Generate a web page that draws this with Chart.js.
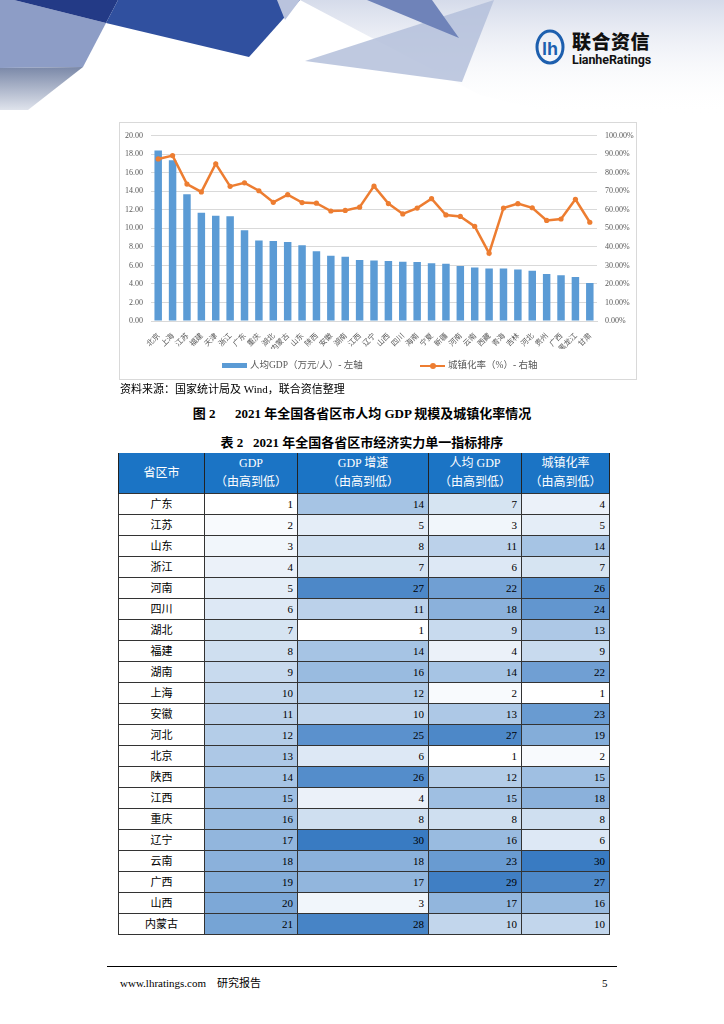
<!DOCTYPE html>
<html lang="zh-CN">
<head>
<meta charset="utf-8">
<title>2021年全国各省区市人均GDP规模及城镇化率情况</title>
<script src="https://cdn.jsdelivr.net/npm/chart.js@4.4.1/dist/chart.umd.min.js"></script>
<style>
  html, body { margin: 0; padding: 0; }
  body { width: 724px; height: 1024px; position: relative; overflow: hidden; background: #fff;
         font-family: "Liberation Serif", "Noto Sans CJK SC", serif; color: #000; }
  #hdr { position: absolute; left: 0; top: 0; }
  .logo-cn { position: absolute; left: 572px; top: 31px; font-family: "Noto Sans CJK SC", sans-serif; font-weight: 900; font-size: 19px; letter-spacing: 0.5px; color: #111; line-height: 20px; }
  .logo-en { position: absolute; left: 572px; top: 53px; font-family: "Roboto", "Liberation Sans", sans-serif; font-weight: 700; font-size: 12.5px; color: #111; line-height: 14px; letter-spacing: -0.1px; }
  #chartBox { position: absolute; left: 119px; top: 122px; width: 516px; height: 256px; border: 1px solid #d9d9d9; }
  #chartWrap { position: absolute; left: 0; top: 0; width: 516px; height: 256px; }
  .legend { position: absolute; top: 236px; font-family: "Liberation Serif", "Noto Sans CJK SC", serif; font-size: 9.5px; color: #595959; line-height: 12px; white-space: nowrap; }
  .legend .sw { display: inline-block; vertical-align: middle; margin-right: 3px; }
  .src { position: absolute; left: 120px; top: 381px; font-size: 11px; line-height: 16px; white-space: nowrap; }
  .cap { position: absolute; left: 0; width: 724px; text-align: center; font-weight: bold; font-size: 13px; line-height: 18px; white-space: nowrap; }
  table { position: absolute; left: 118px; top: 453px; width: 491px; border-collapse: collapse; table-layout: fixed; }
  th { background: #1b74c5; color: #fff; font-weight: normal; font-family: "Liberation Serif", "Noto Sans CJK SC", serif; font-size: 12px; line-height: 19px; height: 40px; padding: 0; border-left: 1px solid #222; border-right: 1px solid #222; text-align: center; }
  td { height: 20px; padding: 0 4px 0 0; font-size: 11px; line-height: 20px; border: 1px solid #333; text-align: right; }
  td.nm { text-align: center; padding: 0; }
  .foot-line { position: absolute; left: 107px; top: 966px; width: 510px; height: 1px; background: #000; }
  .foot { position: absolute; left: 120px; top: 975px; font-size: 11px; line-height: 16px; white-space: nowrap; }
  .pg { position: absolute; left: 602px; top: 975px; font-size: 11px; line-height: 16px; }
</style>
</head>
<body>
<svg id="hdr" width="724" height="115" viewBox="0 0 724 115">
  <defs>
    <linearGradient id="bgv" x1="0" y1="0" x2="0" y2="1">
      <stop offset="0" stop-color="#d5dbea"/>
      <stop offset="1" stop-color="#ffffff" stop-opacity="0"/>
    </linearGradient>
    <linearGradient id="gl" x1="0" y1="0" x2="0" y2="1">
      <stop offset="0" stop-color="#7a88a8"/>
      <stop offset="1" stop-color="#dfe3ec"/>
    </linearGradient>
  </defs>
  <polygon points="300,0 724,0 724,115 560,115 480,95" fill="url(#bgv)"/>
  <polygon points="0,0 14,0 106,23 83,67 0,68" fill="#8d9dc6"/>
  <polygon points="0,68 83,67 28,110 0,110" fill="url(#gl)"/>
  <polygon points="14,0 118,0 106,23" fill="#233a86"/>
  <polygon points="118,0 300,0 249,57 106,23" fill="#30509f"/>
  <polygon points="277,0 300,0 285,20" fill="#b9c3dd"/>
  <polygon points="305,61 494,0 462,82" fill="#b4bfdb" opacity="0.85"/>
  <polygon points="367,0 432,0 459,38" fill="#6f83b9"/>
  <ellipse cx="550" cy="47" rx="13" ry="16" fill="none" stroke="#1d5fae" stroke-width="3"/>
  <text x="550" y="55" text-anchor="middle" font-family="Liberation Sans, sans-serif" font-weight="bold" font-size="18" fill="#1d5fae">lh</text>
</svg>
<div class="logo-cn">联合资信</div>
<div class="logo-en">LianheRatings</div>

<div id="chartBox">
  <div id="chartWrap"><canvas id="chart"></canvas></div>
  <div class="legend" style="left:102px;"><span class="sw" style="width:25px;height:5px;background:#5b9bd5;"></span>人均GDP（万元/人）- 左轴</div>
  <div class="legend" style="left:300px;"><span class="sw" style="width:25px;height:7px;position:relative;"><span style="position:absolute;left:0;top:2.5px;width:25px;height:2px;background:#ed7d31;"></span><span style="position:absolute;left:9.5px;top:0.5px;width:6px;height:6px;border-radius:50%;background:#ed7d31;"></span></span>城镇化率（%）- 右轴</div>
</div>

<div class="src">资料来源：国家统计局及 Wind，联合资信整理</div>
<div class="cap" style="top:405px;">图 2&emsp;&ensp;2021 年全国各省区市人均 GDP 规模及城镇化率情况</div>
<div class="cap" style="top:434px;">表 2&ensp;&nbsp;2021 年全国各省区市经济实力单一指标排序</div>

<table id="tbl">
  <colgroup><col style="width:86px"><col style="width:93px"><col style="width:131px"><col style="width:93px"><col style="width:88px"></colgroup>
  <thead><tr id="thead"></tr></thead>
  <tbody id="tbody"></tbody>
</table>

<div class="foot-line"></div>
<div class="foot">www.lhratings.com&emsp;研究报告</div>
<div class="pg">5</div>

<script>
// ---- Chart data ----
const categories = ['北京','上海','江苏','福建','天津','浙江','广东','重庆','湖北','内蒙古','山东','陕西','安徽','湖南','江西','辽宁','山西','四川','海南','宁夏','新疆','河南','云南','西藏','青海','吉林','河北','贵州','广西','黑龙江','甘肃'];
const gdpPerCapita = [18.40,17.36,13.70,11.68,11.37,11.30,9.80,8.69,8.63,8.53,8.18,7.54,7.04,6.93,6.59,6.52,6.49,6.41,6.38,6.25,6.17,5.94,5.77,5.66,5.66,5.55,5.42,5.08,4.93,4.76,4.10];
const urbanRate = [87.50,89.30,73.94,69.70,84.88,72.70,74.63,70.32,64.09,68.21,63.94,63.63,59.39,59.71,61.46,72.81,63.42,57.80,60.97,66.04,57.26,56.45,51.05,36.61,61.02,63.36,61.14,54.33,55.08,65.70,53.33];
const leftTicks = [0,2,4,6,8,10,12,14,16,18,20];
const rightTicks = [0,10,20,30,40,50,60,70,80,90,100];

// ---- Table data ----
const tableHeaders = ['省区市', 'GDP|（由高到低）', 'GDP 增速|（由高到低）', '人均 GDP|（由高到低）', '城镇化率|（由高到低）'];
const provinces = ['广东','江苏','山东','浙江','河南','四川','湖北','福建','湖南','上海','安徽','河北','北京','陕西','江西','重庆','辽宁','云南','广西','山西','内蒙古'];
const rankGDP = [1,2,3,4,5,6,7,8,9,10,11,12,13,14,15,16,17,18,19,20,21];
const rankGrowth = [14,5,8,7,27,11,1,14,16,12,10,25,6,26,4,8,30,18,17,3,28];
const rankPerCapita = [7,3,11,6,22,18,9,4,14,2,13,27,1,12,15,8,16,23,29,17,10];
const rankUrban = [4,5,14,7,26,24,13,9,22,1,23,19,2,15,18,8,6,30,27,16,10];

// build table
const thead = document.getElementById('thead');
tableHeaders.forEach(h => {
  const th = document.createElement('th');
  th.innerHTML = h.split('|').join('<br>');
  thead.appendChild(th);
});
function heat(r) {
  const t = (r - 1) / 30;
  const c0 = [255,255,255], c1 = [50,118,192];
  const c = c0.map((v,i) => Math.round(v + (c1[i]-v)*t));
  return `rgb(${c[0]},${c[1]},${c[2]})`;
}
const tbody = document.getElementById('tbody');
provinces.forEach((p, i) => {
  const tr = document.createElement('tr');
  const td0 = document.createElement('td'); td0.className = 'nm'; td0.textContent = p; tr.appendChild(td0);
  [rankGDP[i], rankGrowth[i], rankPerCapita[i], rankUrban[i]].forEach(v => {
    const td = document.createElement('td');
    td.textContent = v;
    td.style.background = heat(v);
    tr.appendChild(td);
  });
  tbody.appendChild(tr);
});

// build chart
const tickFont = { family: '"Liberation Serif", serif', size: 8 };
new Chart(document.getElementById('chart'), {
  data: {
    labels: categories,
    datasets: [
      { type: 'line', label: '城镇化率（%）- 右轴', data: urbanRate, yAxisID: 'y1',
        borderColor: '#ed7d31', backgroundColor: '#ed7d31', borderWidth: 2.5,
        pointRadius: 2.6, pointHoverRadius: 2.6, pointBackgroundColor: '#ed7d31', pointBorderWidth: 0,
        tension: 0, order: 0 },
      { type: 'bar', label: '人均GDP（万元/人）- 左轴', data: gdpPerCapita, yAxisID: 'y',
        backgroundColor: '#5b9bd5', barPercentage: 0.52, categoryPercentage: 1.0, order: 1 }
    ]
  },
  options: {
    responsive: true, maintainAspectRatio: false, animation: false,
    layout: { padding: { top: 12, bottom: 30, left: 0, right: 0 } },
    plugins: { legend: { display: false }, tooltip: { enabled: false } },
    scales: {
      x: {
        grid: { display: false },
        border: { color: '#d9d9d9' },
        ticks: { font: { family: '"Noto Sans CJK SC", sans-serif', size: 7.5 }, color: '#595959', minRotation: 45, maxRotation: 45, autoSkip: false, padding: 2 },
        afterFit: s => { s.height = 28; }
      },
      y: {
        position: 'left', min: 0, max: 20,
        afterBuildTicks: s => { s.ticks = leftTicks.map(v => ({ value: v })); },
        ticks: { font: tickFont, color: '#595959', padding: 8, callback: v => Number(v).toFixed(2) },
        grid: { color: '#d9d9d9', drawTicks: false, lineWidth: 1 },
        border: { display: false },
        afterFit: s => { s.width = 31; }
      },
      y1: {
        position: 'right', min: 0, max: 100,
        afterBuildTicks: s => { s.ticks = rightTicks.map(v => ({ value: v })); },
        ticks: { font: tickFont, color: '#595959', padding: 8, callback: v => Number(v).toFixed(2) + '%' },
        grid: { display: false, drawTicks: false },
        border: { display: false },
        afterFit: s => { s.width = 39; }
      }
    }
  }
});
</script>
</body>
</html>
